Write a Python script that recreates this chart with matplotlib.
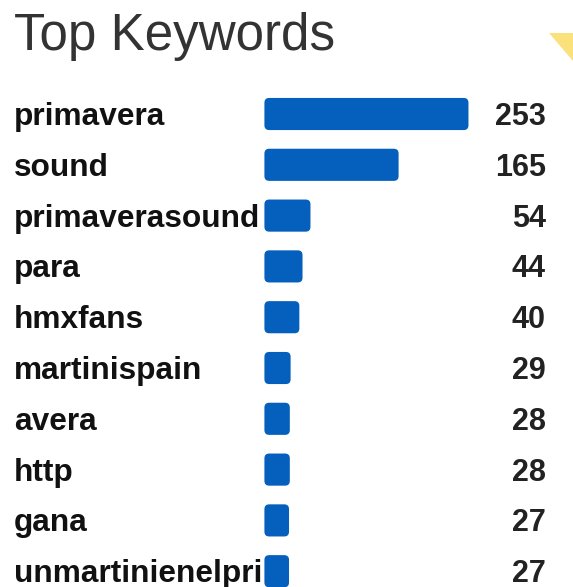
import matplotlib
matplotlib.use("Agg")
import matplotlib.pyplot as plt
from matplotlib.patches import FancyBboxPatch, Polygon
from matplotlib.transforms import blended_transform_factory, ScaledTranslation

keywords = ["primavera", "sound", "primaverasound", "para", "hmxfans",
            "martinispain", "avera", "http", "gana", "unmartinienelpri"]
counts = [253, 165, 54, 44, 40, 29, 28, 28, 27, 27]

W, H, DPI = 573, 587, 100
fig = plt.figure(figsize=(W / DPI, H / DPI), dpi=DPI)
fig.patch.set_facecolor("white")
plt.rcParams["font.family"] = ["Liberation Sans", "DejaVu Sans"]

# bar area: left edge at ~265px, rows 51px apart, first row centred at y=114
row_px = 50.8
top_px = 114 - row_px / 2
n = len(keywords)
ax_h = n * row_px
ax_left = 266.0
ax_w = W - ax_left
ax = fig.add_axes([ax_left / W, 1 - (top_px + ax_h) / H, ax_w / W, ax_h / H])
ax.set_xlim(0, ax_w / 0.794)
ax.set_ylim(n - 0.5, -0.5)
ax.axis("off")

px_x = 0.794            # px per x unit
px_y = row_px           # px per y unit
aspect = px_x / px_y
bar_h = 0.57
for i, v in enumerate(counts):
    p = FancyBboxPatch((0, i - bar_h / 2), v, bar_h,
                       boxstyle="round,pad=2,rounding_size=6",
                       mutation_aspect=aspect, clip_on=False,
                       facecolor="#0560bd", edgecolor="none")
    ax.add_patch(p)

# labels and values, baseline ~11px below row centre
off = ScaledTranslation(0, -11 / DPI, fig.dpi_scale_trans)
tr = blended_transform_factory(fig.transFigure, ax.transData) + off
for i, (k, v) in enumerate(zip(keywords, counts)):
    fig.text(14 / W, i, k, transform=tr, fontsize=22.8, fontweight="bold",
             color="#111111", va="baseline", ha="left")
    fig.text(546 / W, i, str(v), transform=tr, fontsize=22, fontweight="bold",
             color="#222222", va="baseline", ha="right")

fig.text(14 / W, 1 - 50 / H, "Top Keywords", fontsize=36.8, color="#333333",
         va="baseline", ha="left")

# little yellow corner decoration
fig.patches.append(Polygon([(549 / W, 1 - 33 / H), (1.0, 1 - 33 / H), (1.0, 1 - 61 / H)],
                           closed=True, transform=fig.transFigure,
                           facecolor="#fbe17c", edgecolor="none"))

fig.savefig("out.png", dpi=DPI, facecolor="white")
